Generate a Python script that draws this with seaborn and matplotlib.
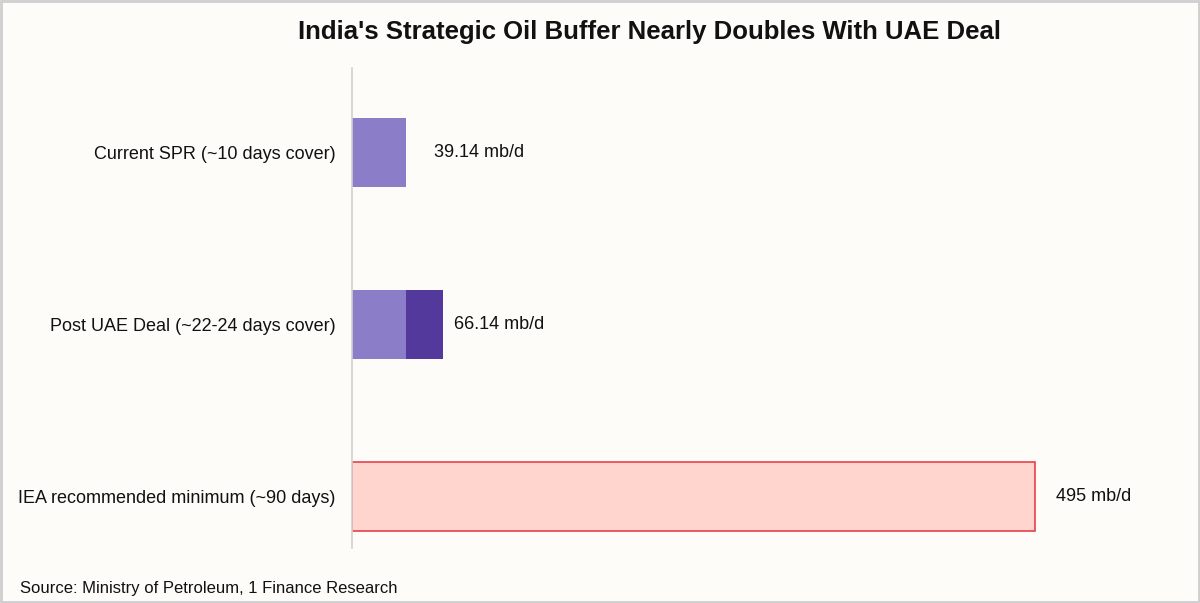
import matplotlib
matplotlib.use("Agg")
import matplotlib.pyplot as plt
import seaborn as sns
import pandas as pd
from matplotlib.patches import Rectangle

categories = ["Current SPR (~10 days cover)", "Post UAE Deal (~22-24 days cover)", "IEA recommended minimum (~90 days)"]
base_values = [39.14, 39.14, 0.0]
uae_addition = [0.0, 27.00, 0.0]
iea_values = [0.0, 0.0, 495.0]
value_labels = ["39.14 mb/d", "66.14 mb/d", "495 mb/d"]
totals = [39.14, 66.14, 495.0]

sns.set_theme(style="white")
plt.rcParams['font.family'] = ['Liberation Sans', 'DejaVu Sans']

bg = "#FDFCF8"
fig = plt.figure(figsize=(12, 6.03), dpi=100, facecolor=bg)
ax = fig.add_axes([0.2933, 0.0912, 0.69, 0.796])
ax.set_facecolor(bg)

df = pd.DataFrame({"cat": categories, "base": base_values, "add": uae_addition, "iea": iea_values})

sns.barplot(data=df, y="cat", x="base", color="#8B7DC8", width=0.4, ax=ax,
            saturation=1, orient="h", linewidth=0, edgecolor="none")
for i, (b, a) in enumerate(zip(base_values, uae_addition)):
    if a > 0:
        ax.barh(i, a, left=b, height=0.4, color="#52399B", edgecolor="none", linewidth=0)
for i, v in enumerate(iea_values):
    if v > 0:
        ax.barh(i, v, height=0.4, color="#FFD5CE", edgecolor="#E8404A", linewidth=1.2)

offsets = [20, 8, 15]
for i, (t, lab) in enumerate(zip(totals, value_labels)):
    ax.annotate(lab, xy=(t, i), xytext=(offsets[i], 0), textcoords="offset points",
                va="center", ha="left", fontsize=13, color="#111111")

ax.set_xlim(0, 600)
ax.set_ylim(2.30, -0.49)
ax.set_xlabel("")
ax.set_ylabel("")
ax.set_xticks([])
ax.tick_params(axis="y", labelsize=13, colors="#111111", length=0, pad=12)
for s in ["top", "right", "bottom"]:
    ax.spines[s].set_visible(False)
ax.spines["left"].set_color("#D0D0D0")
ax.spines["left"].set_linewidth(1.2)

fig.text(650/1200, 1 - 32/603, "India's Strategic Oil Buffer Nearly Doubles With UAE Deal",
         ha="center", va="center", fontsize=18.5, fontweight="bold", color="#111111")
fig.text(20/1200, 1 - 589/603, "Source: Ministry of Petroleum, 1 Finance Research",
         ha="left", va="center", fontsize=12, color="#111111")

fig.patches.append(Rectangle((0.001, 0.002), 0.998, 0.996, transform=fig.transFigure,
                             fill=False, edgecolor="#CFCFCF", linewidth=2))

fig.savefig("out.png", dpi=100, facecolor=bg)
